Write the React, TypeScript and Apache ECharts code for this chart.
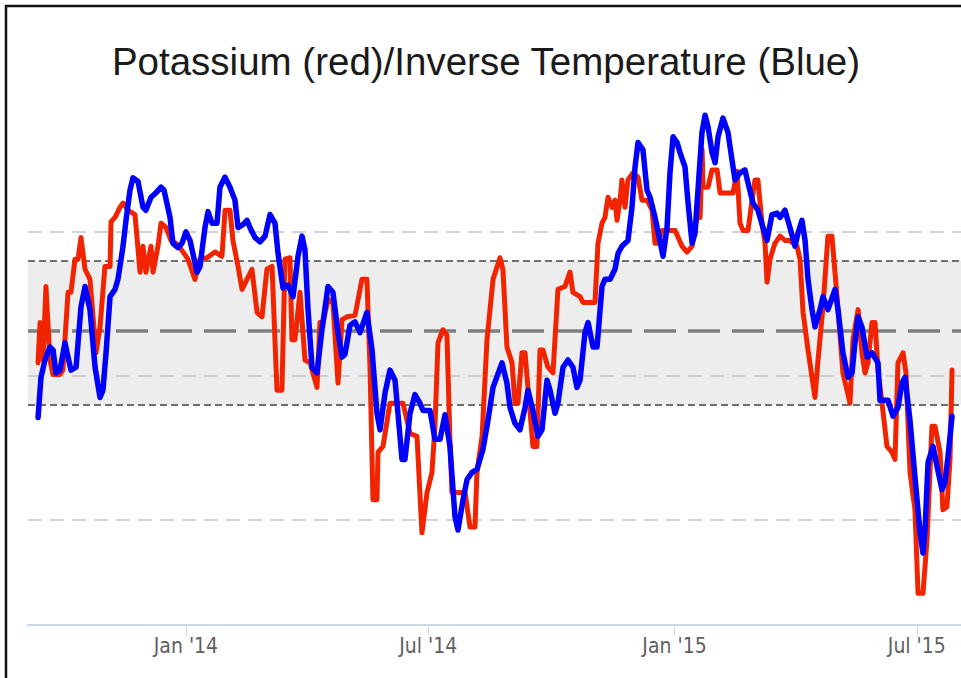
import React, { useEffect, useRef } from "react";
import * as echarts from "echarts";

const TITLE = "Potassium (red)/Inverse Temperature (Blue)";

// x = days since 5 Sep 2013, y = index value
const AXIS_START = [2013, 8, 5];
const AXIS_END_DAY = 697;

const potassium: number[][] = [
  [7.5, 20.9], [9.0, 23.7], [11.2, 21.1], [13.4, 26.2], [16.4, 21.1], [18.7, 20.1],
  [23.9, 20.1], [26.1, 20.4], [29.9, 25.8], [32.1, 25.8], [35.1, 28.1], [37.4, 28.1],
  [39.6, 29.6], [42.6, 27.4], [46.3, 26.7], [50.8, 21.6], [53.8, 23.4], [57.5, 27.6],
  [61.3, 27.6], [62.0, 30.7], [65.0, 31.0], [68.7, 31.7], [71.0, 32.0], [74.7, 31.5],
  [79.9, 31.2], [83.7, 27.2], [85.9, 29.0], [88.1, 27.2], [91.9, 29.0], [93.4, 27.2],
  [97.1, 29.0], [99.4, 30.6], [103.1, 30.3], [106.8, 29.4], [110.6, 29.2], [114.3, 28.8],
  [117.3, 28.4], [119.5, 28.1], [124.7, 26.7], [128.5, 28.1], [133.7, 28.2], [139.7, 28.6],
  [144.9, 28.3], [147.2, 31.5], [150.9, 31.5], [153.1, 29.4], [156.9, 27.6], [159.9, 26.0],
  [163.6, 26.7], [167.3, 27.4], [171.1, 24.4], [174.8, 24.1], [178.5, 27.4], [182.3, 27.6],
  [186.0, 19.0], [189.7, 19.0], [192.0, 28.1], [195.7, 28.2], [197.2, 22.5], [199.4, 22.5],
  [203.2, 25.8], [206.9, 21.1], [210.7, 20.9], [215.9, 19.2], [218.1, 23.7], [220.4, 23.7],
  [224.1, 25.3], [227.8, 25.1], [231.6, 19.5], [234.6, 23.9], [238.3, 24.1], [244.3, 24.2],
  [249.5, 26.7], [253.2, 26.7], [255.5, 20.6], [257.7, 11.4], [260.7, 11.4], [261.5, 14.7],
  [265.2, 15.1], [270.4, 18.1], [280.1, 18.1], [285.4, 16.0], [290.6, 15.8], [294.3, 9.1],
  [298.1, 11.9], [301.8, 13.3], [304.0, 16.5], [306.3, 22.3], [310.0, 23.2], [313.0, 22.8],
  [315.2, 15.6], [316.7, 11.9], [326.5, 11.9], [330.2, 9.5], [333.9, 9.5], [335.4, 13.3],
  [339.2, 15.8], [342.9, 22.5], [347.4, 26.7], [352.6, 28.2], [354.8, 27.4], [357.8, 22.0],
  [361.6, 20.9], [363.8, 18.1], [366.0, 18.1], [369.0, 21.6], [371.3, 21.6], [373.5, 19.2],
  [377.2, 15.1], [380.2, 15.1], [382.5, 21.8], [384.7, 21.8], [388.4, 20.6], [392.2, 20.2],
  [395.9, 26.0], [401.1, 26.2], [404.9, 27.2], [407.1, 25.8], [412.4, 25.5], [414.6, 25.1],
  [423.6, 25.1], [425.8, 29.2], [428.8, 30.6], [431.0, 31.0], [433.3, 32.4], [436.3, 31.7],
  [438.5, 32.2], [440.0, 30.8], [442.3, 32.2], [443.7, 33.6], [446.0, 31.7], [448.2, 33.6],
  [452.0, 34.1], [455.7, 33.8], [458.7, 32.2], [462.5, 32.2], [466.2, 31.5], [468.4, 29.2],
  [470.7, 29.2], [473.7, 30.1], [483.4, 30.1], [488.6, 29.0], [492.4, 28.6], [496.1, 29.0],
  [499.8, 31.0], [502.1, 31.0], [503.6, 35.7], [504.3, 33.1], [508.0, 33.1], [511.0, 34.3],
  [514.8, 34.3], [517.0, 32.7], [526.7, 32.7], [529.7, 34.2], [531.9, 30.6], [534.2, 30.1],
  [537.9, 30.1], [540.9, 32.2], [543.1, 33.6], [545.3, 33.6], [548.3, 30.6], [550.6, 29.2],
  [552.1, 26.5], [554.3, 28.1], [558.0, 29.2], [561.8, 29.7], [565.5, 29.4], [569.2, 29.4],
  [574.5, 29.0], [576.7, 28.1], [579.0, 24.4], [582.7, 21.8], [587.9, 18.5], [590.2, 21.1],
  [593.9, 24.8], [597.6, 29.7], [600.6, 29.7], [604.4, 25.5], [608.8, 20.2], [614.1, 18.1],
  [616.3, 22.5], [620.1, 24.6], [623.0, 21.6], [625.3, 20.2], [627.5, 20.9], [630.5, 23.7],
  [632.8, 23.7], [635.0, 20.4], [638.0, 18.1], [641.7, 15.1], [645.4, 14.7], [647.7, 14.2],
  [649.9, 20.9], [653.7, 21.6], [655.9, 20.2], [658.9, 13.3], [662.6, 10.7], [664.9, 4.9],
  [668.6, 4.9], [671.6, 8.6], [675.3, 16.5], [677.6, 16.5], [681.3, 14.7], [683.5, 10.7],
  [686.5, 10.9], [688.8, 14.2], [690.3, 20.4],
];

const inverseTemperature: number[][] = [
  [7.5, 17.1], [9.7, 19.9], [12.7, 21.1], [16.4, 22.0], [18.7, 21.8], [20.9, 20.2],
  [23.9, 20.4], [27.6, 22.3], [29.9, 21.3], [32.1, 20.4], [35.9, 20.6], [39.6, 24.8],
  [42.6, 26.2], [46.3, 24.6], [50.1, 20.6], [53.8, 18.5], [56.0, 19.0], [58.3, 21.6],
  [61.3, 25.5], [65.0, 26.0], [67.2, 26.7], [71.0, 29.0], [73.2, 30.8], [76.2, 32.9],
  [78.4, 33.75], [82.2, 33.5], [85.9, 31.7], [88.1, 31.5], [91.9, 32.4], [95.6, 32.7],
  [99.4, 33.1], [101.6, 32.9], [106.1, 31.0], [108.3, 29.2], [112.1, 28.9], [115.0, 29.2],
  [118.0, 30.0], [121.0, 29.4], [126.3, 27.2], [128.5, 27.6], [132.2, 30.3], [134.5, 31.4],
  [137.5, 30.6], [141.2, 30.6], [143.4, 33.1], [147.2, 33.8], [150.9, 33.1], [154.6, 32.2],
  [156.9, 30.3], [160.6, 30.5], [163.6, 30.8], [165.8, 30.3], [169.6, 29.6], [173.3, 29.3],
  [177.1, 29.7], [180.8, 31.2], [184.5, 30.6], [186.8, 28.5], [190.5, 26.1], [194.2, 26.3],
  [198.0, 25.5], [201.7, 28.3], [204.7, 29.7], [206.9, 28.75], [209.2, 24.6], [212.2, 20.6],
  [215.9, 20.2], [219.6, 23.2], [224.1, 26.2], [227.8, 25.8], [231.6, 23.0], [234.6, 21.3],
  [236.8, 21.5], [240.5, 23.5], [244.3, 23.75], [248.0, 23.0], [253.2, 24.4], [257.0, 21.8],
  [260.7, 17.4], [263.0, 16.25], [266.7, 18.8], [270.4, 20.4], [274.2, 19.7], [279.4, 14.2],
  [281.6, 14.2], [285.4, 17.4], [289.1, 18.7], [292.8, 18.1], [295.1, 17.6], [300.3, 17.6],
  [304.0, 15.6], [307.8, 15.6], [311.5, 17.3], [315.2, 15.1], [319.0, 10.2], [321.2, 9.3],
  [325.0, 11.4], [328.0, 12.8], [331.7, 13.3], [335.4, 13.5], [339.9, 14.9], [343.6, 16.9],
  [347.4, 19.2], [354.1, 20.9], [357.8, 19.5], [360.1, 17.8], [363.8, 16.7], [367.5, 16.25],
  [371.3, 17.8], [373.5, 19.0], [377.2, 17.6], [381.0, 15.8], [384.0, 16.25], [387.7, 19.7],
  [390.0, 19.0], [393.7, 17.4], [395.9, 18.1], [399.7, 20.6], [403.4, 21.1], [407.1, 20.6],
  [410.1, 19.2], [412.4, 19.7], [416.1, 23.0], [418.4, 23.7], [422.1, 22.0], [425.1, 22.0],
  [428.8, 26.2], [431.0, 26.7], [434.8, 26.7], [438.5, 27.4], [440.8, 28.5], [443.7, 29.0],
  [446.0, 29.2], [448.2, 29.4], [451.2, 31.7], [453.5, 34.5], [455.7, 36.2], [459.4, 35.7],
  [462.4, 32.9], [464.7, 32.4], [468.4, 31.0], [471.4, 29.7], [474.4, 28.3], [477.4, 30.3],
  [479.6, 34.1], [481.9, 36.6], [484.9, 36.2], [487.1, 35.5], [490.8, 34.5], [493.1, 32.0],
  [496.1, 29.2], [498.3, 29.9], [500.5, 32.9], [503.5, 36.9], [505.8, 38.1], [508.0, 37.3],
  [511.0, 35.5], [513.3, 34.8], [515.5, 36.6], [519.2, 37.9], [522.9, 36.9], [525.9, 35.0],
  [528.2, 33.6], [531.9, 34.1], [535.6, 34.3], [537.9, 33.4], [541.6, 32.0], [545.3, 31.5],
  [549.1, 30.3], [552.1, 29.4], [555.8, 31.2], [559.5, 31.3], [561.8, 31.0], [565.5, 31.5],
  [569.2, 30.3], [573.0, 29.0], [575.2, 29.9], [578.2, 30.8], [580.5, 29.4], [582.7, 26.7],
  [585.7, 24.6], [587.9, 23.4], [591.7, 24.6], [593.9, 25.5], [597.6, 24.6], [602.9, 26.0],
  [605.1, 24.6], [608.8, 21.6], [612.6, 19.9], [615.6, 20.2], [617.8, 22.3], [620.1, 24.1],
  [623.0, 23.4], [626.8, 21.3], [630.5, 21.6], [635.0, 20.9], [636.5, 18.3], [640.2, 18.3],
  [642.5, 18.3], [646.2, 17.2], [649.9, 17.8], [652.9, 19.5], [655.2, 19.9], [658.9, 16.9],
  [662.6, 13.0], [666.4, 9.1], [668.6, 7.7], [670.1, 9.3], [672.4, 14.0], [676.1, 15.1],
  [679.1, 13.7], [682.8, 12.1], [685.0, 12.6], [687.3, 14.4], [690.3, 17.2],
];

// reference levels
const GRID_LEVELS = [10, 20, 30];
const BAND_LOW = 18;
const BAND_HIGH = 28;
const MEAN_LEVEL = 23.1;
const Y_MIN = 2.7;
const Y_MAX = 39.5;

// x-axis ticks
const TICK_DATES = [
  [2014, 0, 1],
  [2014, 6, 1],
  [2015, 0, 1],
  [2015, 6, 1],
];
const TICK_LABELS = ["Jan '14", "Jul '14", "Jan '15", "Jul '15"];

const DAY = 86400000;
const ts = (d: number[]) => new Date(d[0], d[1], d[2]).getTime();

export default function App() {
  const ref = useRef<HTMLDivElement>(null);

  useEffect(() => {
    if (!ref.current) return;
    const chart = echarts.init(ref.current, undefined, { renderer: "svg" });
    const t0 = ts(AXIS_START);
    const tickDays = TICK_DATES.map((d) => Math.round((ts(d) - t0) / DAY));

    chart.setOption({
      animation: false,
      backgroundColor: "#ffffff",
      title: {
        text: TITLE,
        left: 481,
        top: 37,
        textAlign: "center",
        textStyle: {
          fontFamily: "Liberation Sans, Arial, sans-serif",
          fontSize: 38.5,
          fontWeight: "normal",
          color: "#1a1a1a",
        },
      },
      graphic: [
        {
          type: "rect",
          shape: { x: 6, y: 6, width: 1000, height: 700 },
          style: { fill: "none", stroke: "#111111", lineWidth: 2.5 },
          silent: true,
          z: 100,
        },
      ],
      grid: { left: 28, right: 0, top: 95, bottom: 53, containLabel: false },
      xAxis: {
        type: "value",
        min: 0,
        max: AXIS_END_DAY,
        axisLine: { show: true, lineStyle: { color: "#ccd6eb", width: 2 } },
        axisTick: {
          show: true,
          customValues: tickDays,
          length: 10,
          lineStyle: { color: "#ccd6eb", width: 1 },
        },
        axisLabel: {
          customValues: tickDays,
          formatter: (v: number) => {
            const k = tickDays.indexOf(v);
            return k >= 0 ? TICK_LABELS[k] : "";
          },
          color: "#606060",
          fontSize: 21,
          fontFamily: "DejaVu Sans Condensed, Liberation Sans Narrow, Liberation Sans, sans-serif",
          margin: 10,
        },
        splitLine: { show: false },
      },
      yAxis: {
        type: "value",
        min: Y_MIN,
        max: Y_MAX,
        axisLine: { show: false },
        axisTick: { show: false },
        axisLabel: { show: false },
        splitLine: { show: false },
      },
      series: [
        {
          name: "Potassium",
          type: "line",
          data: potassium,
          showSymbol: false,
          symbol: "none",
          z: 10,
          lineStyle: { color: "#f22400", width: 5, join: "round", cap: "round" },
          markArea: {
            silent: true,
            itemStyle: { color: "#ededed" },
            data: [[{ yAxis: BAND_LOW }, { yAxis: BAND_HIGH }]],
          },
          markLine: {
            silent: true,
            symbol: ["none", "none"],
            label: { show: false },
            data: [
              ...GRID_LEVELS.map((v) => ({
                yAxis: v,
                lineStyle: { color: "#c4c4c4", width: 1.5, type: [14, 8] },
              })),
              {
                yAxis: BAND_LOW,
                lineStyle: { color: "#6e6e6e", width: 2.2, type: [7, 4] },
              },
              {
                yAxis: BAND_HIGH,
                lineStyle: { color: "#6e6e6e", width: 2.2, type: [7, 4] },
              },
              {
                yAxis: MEAN_LEVEL,
                lineStyle: { color: "#808080", width: 3.5, type: [32, 12] },
              },
            ],
          },
        },
        {
          name: "Inverse Temperature",
          type: "line",
          data: inverseTemperature,
          showSymbol: false,
          symbol: "none",
          z: 11,
          lineStyle: { color: "#0000ff", width: 5.5, join: "round", cap: "round" },
        },
      ],
    });

    return () => chart.dispose();
  }, []);

  return (
    <div
      ref={ref}
      style={{ position: "absolute", left: 0, top: 0, width: 961, height: 678 }}
    />
  );
}
